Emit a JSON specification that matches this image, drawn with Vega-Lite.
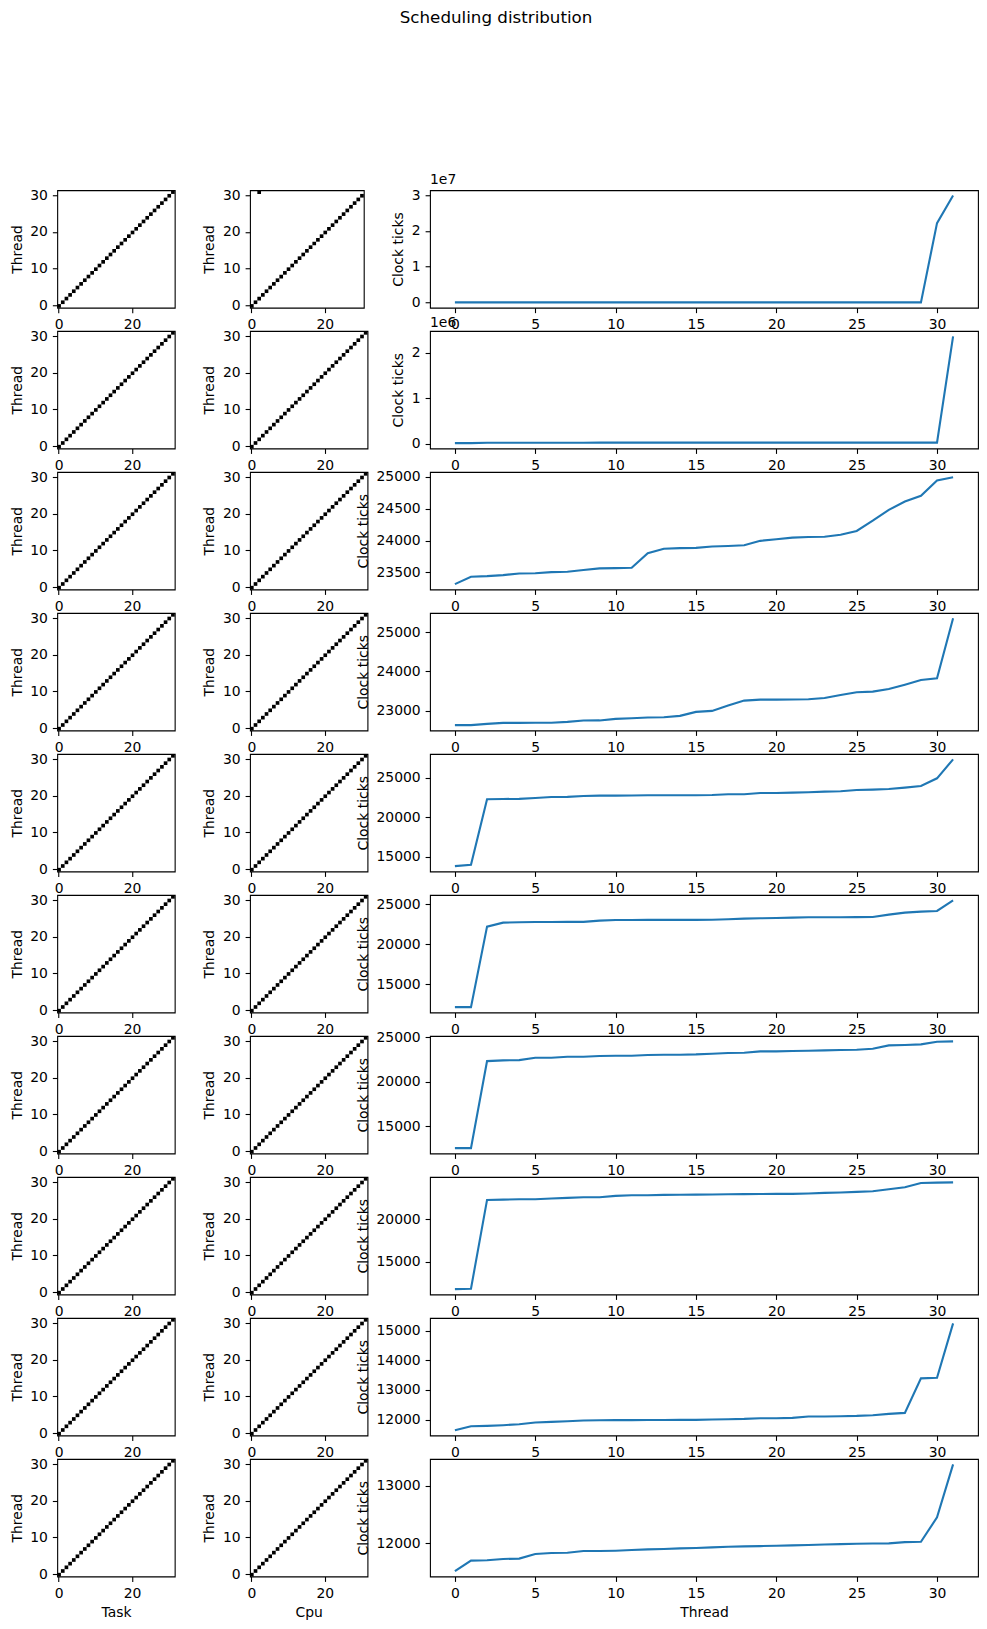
{
"$schema": "https://vega.github.io/schema/vega-lite/v6.json",
"background": "white",
"padding": {"left": 9, "top": 10, "right": 5, "bottom": 5},
"title": {"text": "Scheduling distribution", "fontSize": 16.7, "fontWeight": "normal", "font": "DejaVu Sans", "color": "black", "offset": 146, "anchor": "middle", "dx": 2},
"datasets": {
"task": [{"thread":0,"task":0},{"thread":1,"task":1},{"thread":2,"task":2},{"thread":3,"task":3},{"thread":4,"task":4},{"thread":5,"task":5},{"thread":6,"task":6},{"thread":7,"task":7},{"thread":8,"task":8},{"thread":9,"task":9},{"thread":10,"task":10},{"thread":11,"task":11},{"thread":12,"task":12},{"thread":13,"task":13},{"thread":14,"task":14},{"thread":15,"task":15},{"thread":16,"task":16},{"thread":17,"task":17},{"thread":18,"task":18},{"thread":19,"task":19},{"thread":20,"task":20},{"thread":21,"task":21},{"thread":22,"task":22},{"thread":23,"task":23},{"thread":24,"task":24},{"thread":25,"task":25},{"thread":26,"task":26},{"thread":27,"task":27},{"thread":28,"task":28},{"thread":29,"task":29},{"thread":30,"task":30},{"thread":31,"task":31}],
"cpu": [{"thread":0,"cpu":0},{"thread":1,"cpu":1},{"thread":2,"cpu":2},{"thread":3,"cpu":3},{"thread":4,"cpu":4},{"thread":5,"cpu":5},{"thread":6,"cpu":6},{"thread":7,"cpu":7},{"thread":8,"cpu":8},{"thread":9,"cpu":9},{"thread":10,"cpu":10},{"thread":11,"cpu":11},{"thread":12,"cpu":12},{"thread":13,"cpu":13},{"thread":14,"cpu":14},{"thread":15,"cpu":15},{"thread":16,"cpu":16},{"thread":17,"cpu":17},{"thread":18,"cpu":18},{"thread":19,"cpu":19},{"thread":20,"cpu":20},{"thread":21,"cpu":21},{"thread":22,"cpu":22},{"thread":23,"cpu":23},{"thread":24,"cpu":24},{"thread":25,"cpu":25},{"thread":26,"cpu":26},{"thread":27,"cpu":27},{"thread":28,"cpu":28},{"thread":29,"cpu":29},{"thread":30,"cpu":30},{"thread":31,"cpu":31}],
"cpu1": [{"thread":0,"cpu":0},{"thread":1,"cpu":1},{"thread":2,"cpu":2},{"thread":3,"cpu":3},{"thread":4,"cpu":4},{"thread":5,"cpu":5},{"thread":6,"cpu":6},{"thread":7,"cpu":7},{"thread":8,"cpu":8},{"thread":9,"cpu":9},{"thread":10,"cpu":10},{"thread":11,"cpu":11},{"thread":12,"cpu":12},{"thread":13,"cpu":13},{"thread":14,"cpu":14},{"thread":15,"cpu":15},{"thread":16,"cpu":16},{"thread":17,"cpu":17},{"thread":18,"cpu":18},{"thread":19,"cpu":19},{"thread":20,"cpu":20},{"thread":21,"cpu":21},{"thread":22,"cpu":22},{"thread":23,"cpu":23},{"thread":24,"cpu":24},{"thread":25,"cpu":25},{"thread":26,"cpu":26},{"thread":27,"cpu":27},{"thread":28,"cpu":28},{"thread":29,"cpu":29},{"thread":30,"cpu":30},{"thread":31,"cpu":2}],
"lines": [
{"row":1,"thread":0,"ticks":13500},{"row":1,"thread":1,"ticks":13600},{"row":1,"thread":2,"ticks":22400},{"row":1,"thread":3,"ticks":22500},{"row":1,"thread":4,"ticks":22550},{"row":1,"thread":5,"ticks":22650},{"row":1,"thread":6,"ticks":22700},{"row":1,"thread":7,"ticks":22780},{"row":1,"thread":8,"ticks":22800},{"row":1,"thread":9,"ticks":22860},{"row":1,"thread":10,"ticks":22900},{"row":1,"thread":11,"ticks":22950},{"row":1,"thread":12,"ticks":23000},{"row":1,"thread":13,"ticks":23020},{"row":1,"thread":14,"ticks":23080},{"row":1,"thread":15,"ticks":23100},{"row":1,"thread":16,"ticks":23150},{"row":1,"thread":17,"ticks":23200},{"row":1,"thread":18,"ticks":23260},{"row":1,"thread":19,"ticks":23300},{"row":1,"thread":20,"ticks":23350},{"row":1,"thread":21,"ticks":23400},{"row":1,"thread":22,"ticks":23420},{"row":1,"thread":23,"ticks":23500},{"row":1,"thread":24,"ticks":23550},{"row":1,"thread":25,"ticks":23600},{"row":1,"thread":26,"ticks":23700},{"row":1,"thread":27,"ticks":23800},{"row":1,"thread":28,"ticks":23900},{"row":1,"thread":29,"ticks":24100},{"row":1,"thread":30,"ticks":22200000},{"row":1,"thread":31,"ticks":29900000},
{"row":2,"thread":0,"ticks":12000},{"row":2,"thread":1,"ticks":12100},{"row":2,"thread":2,"ticks":22300},{"row":2,"thread":3,"ticks":22350},{"row":2,"thread":4,"ticks":22400},{"row":2,"thread":5,"ticks":22500},{"row":2,"thread":6,"ticks":22550},{"row":2,"thread":7,"ticks":22600},{"row":2,"thread":8,"ticks":22650},{"row":2,"thread":9,"ticks":22700},{"row":2,"thread":10,"ticks":22720},{"row":2,"thread":11,"ticks":22750},{"row":2,"thread":12,"ticks":22800},{"row":2,"thread":13,"ticks":22820},{"row":2,"thread":14,"ticks":22850},{"row":2,"thread":15,"ticks":22900},{"row":2,"thread":16,"ticks":22950},{"row":2,"thread":17,"ticks":23000},{"row":2,"thread":18,"ticks":23050},{"row":2,"thread":19,"ticks":23100},{"row":2,"thread":20,"ticks":23150},{"row":2,"thread":21,"ticks":23200},{"row":2,"thread":22,"ticks":23250},{"row":2,"thread":23,"ticks":23300},{"row":2,"thread":24,"ticks":23350},{"row":2,"thread":25,"ticks":23450},{"row":2,"thread":26,"ticks":23500},{"row":2,"thread":27,"ticks":23600},{"row":2,"thread":28,"ticks":23700},{"row":2,"thread":29,"ticks":23900},{"row":2,"thread":30,"ticks":24300},{"row":2,"thread":31,"ticks":2360000},
{"row":3,"thread":0,"ticks":23316},{"row":3,"thread":1,"ticks":23432},{"row":3,"thread":2,"ticks":23442},{"row":3,"thread":3,"ticks":23458},{"row":3,"thread":4,"ticks":23484},{"row":3,"thread":5,"ticks":23486},{"row":3,"thread":6,"ticks":23505},{"row":3,"thread":7,"ticks":23511},{"row":3,"thread":8,"ticks":23537},{"row":3,"thread":9,"ticks":23563},{"row":3,"thread":10,"ticks":23568},{"row":3,"thread":11,"ticks":23574},{"row":3,"thread":12,"ticks":23800},{"row":3,"thread":13,"ticks":23870},{"row":3,"thread":14,"ticks":23880},{"row":3,"thread":15,"ticks":23885},{"row":3,"thread":16,"ticks":23905},{"row":3,"thread":17,"ticks":23915},{"row":3,"thread":18,"ticks":23925},{"row":3,"thread":19,"ticks":23995},{"row":3,"thread":20,"ticks":24020},{"row":3,"thread":21,"ticks":24045},{"row":3,"thread":22,"ticks":24055},{"row":3,"thread":23,"ticks":24060},{"row":3,"thread":24,"ticks":24090},{"row":3,"thread":25,"ticks":24150},{"row":3,"thread":26,"ticks":24310},{"row":3,"thread":27,"ticks":24480},{"row":3,"thread":28,"ticks":24610},{"row":3,"thread":29,"ticks":24700},{"row":3,"thread":30,"ticks":24940},{"row":3,"thread":31,"ticks":24990},
{"row":4,"thread":0,"ticks":22627},{"row":4,"thread":1,"ticks":22627},{"row":4,"thread":2,"ticks":22661},{"row":4,"thread":3,"ticks":22686},{"row":4,"thread":4,"ticks":22686},{"row":4,"thread":5,"ticks":22688},{"row":4,"thread":6,"ticks":22690},{"row":4,"thread":7,"ticks":22712},{"row":4,"thread":8,"ticks":22746},{"row":4,"thread":9,"ticks":22748},{"row":4,"thread":10,"ticks":22788},{"row":4,"thread":11,"ticks":22805},{"row":4,"thread":12,"ticks":22822},{"row":4,"thread":13,"ticks":22831},{"row":4,"thread":14,"ticks":22864},{"row":4,"thread":15,"ticks":22966},{"row":4,"thread":16,"ticks":22992},{"row":4,"thread":17,"ticks":23127},{"row":4,"thread":18,"ticks":23254},{"row":4,"thread":19,"ticks":23280},{"row":4,"thread":20,"ticks":23280},{"row":4,"thread":21,"ticks":23282},{"row":4,"thread":22,"ticks":23288},{"row":4,"thread":23,"ticks":23322},{"row":4,"thread":24,"ticks":23398},{"row":4,"thread":25,"ticks":23466},{"row":4,"thread":26,"ticks":23483},{"row":4,"thread":27,"ticks":23551},{"row":4,"thread":28,"ticks":23661},{"row":4,"thread":29,"ticks":23780},{"row":4,"thread":30,"ticks":23822},{"row":4,"thread":31,"ticks":25356},
{"row":5,"thread":0,"ticks":13776},{"row":5,"thread":1,"ticks":13945},{"row":5,"thread":2,"ticks":22257},{"row":5,"thread":3,"ticks":22300},{"row":5,"thread":4,"ticks":22305},{"row":5,"thread":5,"ticks":22426},{"row":5,"thread":6,"ticks":22553},{"row":5,"thread":7,"ticks":22560},{"row":5,"thread":8,"ticks":22680},{"row":5,"thread":9,"ticks":22722},{"row":5,"thread":10,"ticks":22725},{"row":5,"thread":11,"ticks":22730},{"row":5,"thread":12,"ticks":22764},{"row":5,"thread":13,"ticks":22766},{"row":5,"thread":14,"ticks":22768},{"row":5,"thread":15,"ticks":22770},{"row":5,"thread":16,"ticks":22806},{"row":5,"thread":17,"ticks":22890},{"row":5,"thread":18,"ticks":22895},{"row":5,"thread":19,"ticks":23059},{"row":5,"thread":20,"ticks":23062},{"row":5,"thread":21,"ticks":23101},{"row":5,"thread":22,"ticks":23143},{"row":5,"thread":23,"ticks":23228},{"row":5,"thread":24,"ticks":23270},{"row":5,"thread":25,"ticks":23439},{"row":5,"thread":26,"ticks":23481},{"row":5,"thread":27,"ticks":23565},{"row":5,"thread":28,"ticks":23734},{"row":5,"thread":29,"ticks":23945},{"row":5,"thread":30,"ticks":24916},{"row":5,"thread":31,"ticks":27321},
{"row":6,"thread":0,"ticks":12125},{"row":6,"thread":1,"ticks":12125},{"row":6,"thread":2,"ticks":22208},{"row":6,"thread":3,"ticks":22708},{"row":6,"thread":4,"ticks":22750},{"row":6,"thread":5,"ticks":22792},{"row":6,"thread":6,"ticks":22795},{"row":6,"thread":7,"ticks":22798},{"row":6,"thread":8,"ticks":22800},{"row":6,"thread":9,"ticks":22958},{"row":6,"thread":10,"ticks":23042},{"row":6,"thread":11,"ticks":23045},{"row":6,"thread":12,"ticks":23048},{"row":6,"thread":13,"ticks":23050},{"row":6,"thread":14,"ticks":23055},{"row":6,"thread":15,"ticks":23060},{"row":6,"thread":16,"ticks":23070},{"row":6,"thread":17,"ticks":23125},{"row":6,"thread":18,"ticks":23208},{"row":6,"thread":19,"ticks":23250},{"row":6,"thread":20,"ticks":23292},{"row":6,"thread":21,"ticks":23333},{"row":6,"thread":22,"ticks":23375},{"row":6,"thread":23,"ticks":23380},{"row":6,"thread":24,"ticks":23390},{"row":6,"thread":25,"ticks":23400},{"row":6,"thread":26,"ticks":23417},{"row":6,"thread":27,"ticks":23708},{"row":6,"thread":28,"ticks":23958},{"row":6,"thread":29,"ticks":24083},{"row":6,"thread":30,"ticks":24167},{"row":6,"thread":31,"ticks":25500},
{"row":7,"thread":0,"ticks":12510},{"row":7,"thread":1,"ticks":12510},{"row":7,"thread":2,"ticks":22323},{"row":7,"thread":3,"ticks":22400},{"row":7,"thread":4,"ticks":22436},{"row":7,"thread":5,"ticks":22700},{"row":7,"thread":6,"ticks":22705},{"row":7,"thread":7,"ticks":22813},{"row":7,"thread":8,"ticks":22815},{"row":7,"thread":9,"ticks":22889},{"row":7,"thread":10,"ticks":22926},{"row":7,"thread":11,"ticks":22930},{"row":7,"thread":12,"ticks":23002},{"row":7,"thread":13,"ticks":23040},{"row":7,"thread":14,"ticks":23045},{"row":7,"thread":15,"ticks":23077},{"row":7,"thread":16,"ticks":23153},{"row":7,"thread":17,"ticks":23228},{"row":7,"thread":18,"ticks":23266},{"row":7,"thread":19,"ticks":23417},{"row":7,"thread":20,"ticks":23420},{"row":7,"thread":21,"ticks":23454},{"row":7,"thread":22,"ticks":23492},{"row":7,"thread":23,"ticks":23530},{"row":7,"thread":24,"ticks":23567},{"row":7,"thread":25,"ticks":23605},{"row":7,"thread":26,"ticks":23718},{"row":7,"thread":27,"ticks":24095},{"row":7,"thread":28,"ticks":24133},{"row":7,"thread":29,"ticks":24208},{"row":7,"thread":30,"ticks":24510},{"row":7,"thread":31,"ticks":24548},
{"row":8,"thread":0,"ticks":11800},{"row":8,"thread":1,"ticks":11850},{"row":8,"thread":2,"ticks":22285},{"row":8,"thread":3,"ticks":22324},{"row":8,"thread":4,"ticks":22364},{"row":8,"thread":5,"ticks":22366},{"row":8,"thread":6,"ticks":22443},{"row":8,"thread":7,"ticks":22522},{"row":8,"thread":8,"ticks":22600},{"row":8,"thread":9,"ticks":22605},{"row":8,"thread":10,"ticks":22758},{"row":8,"thread":11,"ticks":22837},{"row":8,"thread":12,"ticks":22840},{"row":8,"thread":13,"ticks":22876},{"row":8,"thread":14,"ticks":22890},{"row":8,"thread":15,"ticks":22910},{"row":8,"thread":16,"ticks":22930},{"row":8,"thread":17,"ticks":22950},{"row":8,"thread":18,"ticks":22960},{"row":8,"thread":19,"ticks":22975},{"row":8,"thread":20,"ticks":22990},{"row":8,"thread":21,"ticks":22994},{"row":8,"thread":22,"ticks":23033},{"row":8,"thread":23,"ticks":23112},{"row":8,"thread":24,"ticks":23152},{"row":8,"thread":25,"ticks":23230},{"row":8,"thread":26,"ticks":23310},{"row":8,"thread":27,"ticks":23546},{"row":8,"thread":28,"ticks":23782},{"row":8,"thread":29,"ticks":24280},{"row":8,"thread":30,"ticks":24320},{"row":8,"thread":31,"ticks":24350},
{"row":9,"thread":0,"ticks":11642},{"row":9,"thread":1,"ticks":11776},{"row":9,"thread":2,"ticks":11787},{"row":9,"thread":3,"ticks":11810},{"row":9,"thread":4,"ticks":11843},{"row":9,"thread":5,"ticks":11899},{"row":9,"thread":6,"ticks":11922},{"row":9,"thread":7,"ticks":11944},{"row":9,"thread":8,"ticks":11966},{"row":9,"thread":9,"ticks":11978},{"row":9,"thread":10,"ticks":11980},{"row":9,"thread":11,"ticks":11982},{"row":9,"thread":12,"ticks":11984},{"row":9,"thread":13,"ticks":11986},{"row":9,"thread":14,"ticks":11988},{"row":9,"thread":15,"ticks":11989},{"row":9,"thread":16,"ticks":12000},{"row":9,"thread":17,"ticks":12011},{"row":9,"thread":18,"ticks":12022},{"row":9,"thread":19,"ticks":12045},{"row":9,"thread":20,"ticks":12046},{"row":9,"thread":21,"ticks":12056},{"row":9,"thread":22,"ticks":12101},{"row":9,"thread":23,"ticks":12103},{"row":9,"thread":24,"ticks":12112},{"row":9,"thread":25,"ticks":12123},{"row":9,"thread":26,"ticks":12146},{"row":9,"thread":27,"ticks":12190},{"row":9,"thread":28,"ticks":12224},{"row":9,"thread":29,"ticks":13389},{"row":9,"thread":30,"ticks":13411},{"row":9,"thread":31,"ticks":15246},
{"row":10,"thread":0,"ticks":11511},{"row":10,"thread":1,"ticks":11695},{"row":10,"thread":2,"ticks":11701},{"row":10,"thread":3,"ticks":11724},{"row":10,"thread":4,"ticks":11730},{"row":10,"thread":5,"ticks":11810},{"row":10,"thread":6,"ticks":11828},{"row":10,"thread":7,"ticks":11833},{"row":10,"thread":8,"ticks":11862},{"row":10,"thread":9,"ticks":11863},{"row":10,"thread":10,"ticks":11868},{"row":10,"thread":11,"ticks":11879},{"row":10,"thread":12,"ticks":11891},{"row":10,"thread":13,"ticks":11897},{"row":10,"thread":14,"ticks":11908},{"row":10,"thread":15,"ticks":11914},{"row":10,"thread":16,"ticks":11925},{"row":10,"thread":17,"ticks":11937},{"row":10,"thread":18,"ticks":11943},{"row":10,"thread":19,"ticks":11948},{"row":10,"thread":20,"ticks":11954},{"row":10,"thread":21,"ticks":11960},{"row":10,"thread":22,"ticks":11966},{"row":10,"thread":23,"ticks":11977},{"row":10,"thread":24,"ticks":11983},{"row":10,"thread":25,"ticks":11989},{"row":10,"thread":26,"ticks":11994},{"row":10,"thread":27,"ticks":11996},{"row":10,"thread":28,"ticks":12017},{"row":10,"thread":29,"ticks":12023},{"row":10,"thread":30,"ticks":12449},{"row":10,"thread":31,"ticks":13374}
]
},
"columns": 5,
"spacing": {"row": 23.0, "column": 0},
"bounds": "flush",
"center": true,
"concat": [
 {"width":117.5,"height":117.5,"data":{"name":"task"},"mark":{"type":"rect","color":"black"},"encoding":{"x":{"field":"task","type":"ordinal","scale":{"domain":[0,1,2,3,4,5,6,7,8,9,10,11,12,13,14,15,16,17,18,19,20,21,22,23,24,25,26,27,28,29,30,31],"paddingInner":0,"paddingOuter":0},"axis":{"values":[0,20],"labelAngle":0,"title":null}},"y":{"field":"thread","type":"ordinal","scale":{"domain":[31,30,29,28,27,26,25,24,23,22,21,20,19,18,17,16,15,14,13,12,11,10,9,8,7,6,5,4,3,2,1,0],"paddingInner":0,"paddingOuter":0},"axis":{"values":[0,10,20,30],"title":"Thread"}}}},
 {"width":74.2,"height":117.5,"view":{"stroke":null},"data":{"values":[]},"mark":"point"},
 {"width":113.8,"height":117.5,"data":{"name":"cpu1"},"mark":{"type":"rect","color":"black"},"encoding":{"x":{"field":"cpu","type":"ordinal","scale":{"domain":[0,1,2,3,4,5,6,7,8,9,10,11,12,13,14,15,16,17,18,19,20,21,22,23,24,25,26,27,28,29,30],"paddingInner":0,"paddingOuter":0},"axis":{"values":[0,20],"labelAngle":0,"title":null}},"y":{"field":"thread","type":"ordinal","scale":{"domain":[31,30,29,28,27,26,25,24,23,22,21,20,19,18,17,16,15,14,13,12,11,10,9,8,7,6,5,4,3,2,1,0],"paddingInner":0,"paddingOuter":0},"axis":{"values":[0,10,20,30],"title":"Thread"}}}},
 {"width":61.5,"height":117.5,"view":{"stroke":null},"data":{"values":[]},"mark":"point"},
 {"width":548,"height":117.5,"title":{"text":"1e7","anchor":"start","frame":"group","fontSize":13.9,"fontWeight":"normal","offset":1},"data":{"name":"lines"},"transform":[{"filter":"datum.row == 1"}],"mark":{"type":"line","color":"#1f77b4","strokeWidth":2.1},"encoding":{"x":{"field":"thread","type":"quantitative","scale":{"domain":[-1.55,32.55],"nice":false,"zero":false},"axis":{"values":[0,5,10,15,20,25,30],"title":null}},"y":{"field":"ticks","type":"quantitative","scale":{"zero":false,"nice":false,"padding":5.34},"axis":{"values":[0,10000000,20000000,30000000],"labelExpr":"format(datum.value/1e7,'d')","title":"Clock ticks"}}}},

 {"width":117.5,"height":117.5,"data":{"name":"task"},"mark":{"type":"rect","color":"black"},"encoding":{"x":{"field":"task","type":"ordinal","scale":{"domain":[0,1,2,3,4,5,6,7,8,9,10,11,12,13,14,15,16,17,18,19,20,21,22,23,24,25,26,27,28,29,30,31],"paddingInner":0,"paddingOuter":0},"axis":{"values":[0,20],"labelAngle":0,"title":null}},"y":{"field":"thread","type":"ordinal","scale":{"domain":[31,30,29,28,27,26,25,24,23,22,21,20,19,18,17,16,15,14,13,12,11,10,9,8,7,6,5,4,3,2,1,0],"paddingInner":0,"paddingOuter":0},"axis":{"values":[0,10,20,30],"title":"Thread"}}}},
 {"width":74.2,"height":117.5,"view":{"stroke":null},"data":{"values":[]},"mark":"point"},
 {"width":117.5,"height":117.5,"data":{"name":"cpu"},"mark":{"type":"rect","color":"black"},"encoding":{"x":{"field":"cpu","type":"ordinal","scale":{"domain":[0,1,2,3,4,5,6,7,8,9,10,11,12,13,14,15,16,17,18,19,20,21,22,23,24,25,26,27,28,29,30,31],"paddingInner":0,"paddingOuter":0},"axis":{"values":[0,20],"labelAngle":0,"title":null}},"y":{"field":"thread","type":"ordinal","scale":{"domain":[31,30,29,28,27,26,25,24,23,22,21,20,19,18,17,16,15,14,13,12,11,10,9,8,7,6,5,4,3,2,1,0],"paddingInner":0,"paddingOuter":0},"axis":{"values":[0,10,20,30],"title":"Thread"}}}},
 {"width":61.5,"height":117.5,"view":{"stroke":null},"data":{"values":[]},"mark":"point"},
 {"width":548,"height":117.5,"title":{"text":"1e6","anchor":"start","frame":"group","fontSize":13.9,"fontWeight":"normal","offset":1},"data":{"name":"lines"},"transform":[{"filter":"datum.row == 2"}],"mark":{"type":"line","color":"#1f77b4","strokeWidth":2.1},"encoding":{"x":{"field":"thread","type":"quantitative","scale":{"domain":[-1.55,32.55],"nice":false,"zero":false},"axis":{"values":[0,5,10,15,20,25,30],"title":null}},"y":{"field":"ticks","type":"quantitative","scale":{"zero":false,"nice":false,"padding":5.34},"axis":{"values":[0,1000000,2000000],"labelExpr":"format(datum.value/1e6,'d')","title":"Clock ticks"}}}},

 {"width":117.5,"height":117.5,"data":{"name":"task"},"mark":{"type":"rect","color":"black"},"encoding":{"x":{"field":"task","type":"ordinal","scale":{"domain":[0,1,2,3,4,5,6,7,8,9,10,11,12,13,14,15,16,17,18,19,20,21,22,23,24,25,26,27,28,29,30,31],"paddingInner":0,"paddingOuter":0},"axis":{"values":[0,20],"labelAngle":0,"title":null}},"y":{"field":"thread","type":"ordinal","scale":{"domain":[31,30,29,28,27,26,25,24,23,22,21,20,19,18,17,16,15,14,13,12,11,10,9,8,7,6,5,4,3,2,1,0],"paddingInner":0,"paddingOuter":0},"axis":{"values":[0,10,20,30],"title":"Thread"}}}},
 {"width":74.2,"height":117.5,"view":{"stroke":null},"data":{"values":[]},"mark":"point"},
 {"width":117.5,"height":117.5,"data":{"name":"cpu"},"mark":{"type":"rect","color":"black"},"encoding":{"x":{"field":"cpu","type":"ordinal","scale":{"domain":[0,1,2,3,4,5,6,7,8,9,10,11,12,13,14,15,16,17,18,19,20,21,22,23,24,25,26,27,28,29,30,31],"paddingInner":0,"paddingOuter":0},"axis":{"values":[0,20],"labelAngle":0,"title":null}},"y":{"field":"thread","type":"ordinal","scale":{"domain":[31,30,29,28,27,26,25,24,23,22,21,20,19,18,17,16,15,14,13,12,11,10,9,8,7,6,5,4,3,2,1,0],"paddingInner":0,"paddingOuter":0},"axis":{"values":[0,10,20,30],"title":"Thread"}}}},
 {"width":61.5,"height":117.5,"view":{"stroke":null},"data":{"values":[]},"mark":"point"},
 {"width":548,"height":117.5,"data":{"name":"lines"},"transform":[{"filter":"datum.row == 3"}],"mark":{"type":"line","color":"#1f77b4","strokeWidth":2.1},"encoding":{"x":{"field":"thread","type":"quantitative","scale":{"domain":[-1.55,32.55],"nice":false,"zero":false},"axis":{"values":[0,5,10,15,20,25,30],"title":null}},"y":{"field":"ticks","type":"quantitative","scale":{"zero":false,"nice":false,"padding":5.34},"axis":{"values":[23500,24000,24500,25000],"format":"d","title":"Clock ticks"}}}},

 {"width":117.5,"height":117.5,"data":{"name":"task"},"mark":{"type":"rect","color":"black"},"encoding":{"x":{"field":"task","type":"ordinal","scale":{"domain":[0,1,2,3,4,5,6,7,8,9,10,11,12,13,14,15,16,17,18,19,20,21,22,23,24,25,26,27,28,29,30,31],"paddingInner":0,"paddingOuter":0},"axis":{"values":[0,20],"labelAngle":0,"title":null}},"y":{"field":"thread","type":"ordinal","scale":{"domain":[31,30,29,28,27,26,25,24,23,22,21,20,19,18,17,16,15,14,13,12,11,10,9,8,7,6,5,4,3,2,1,0],"paddingInner":0,"paddingOuter":0},"axis":{"values":[0,10,20,30],"title":"Thread"}}}},
 {"width":74.2,"height":117.5,"view":{"stroke":null},"data":{"values":[]},"mark":"point"},
 {"width":117.5,"height":117.5,"data":{"name":"cpu"},"mark":{"type":"rect","color":"black"},"encoding":{"x":{"field":"cpu","type":"ordinal","scale":{"domain":[0,1,2,3,4,5,6,7,8,9,10,11,12,13,14,15,16,17,18,19,20,21,22,23,24,25,26,27,28,29,30,31],"paddingInner":0,"paddingOuter":0},"axis":{"values":[0,20],"labelAngle":0,"title":null}},"y":{"field":"thread","type":"ordinal","scale":{"domain":[31,30,29,28,27,26,25,24,23,22,21,20,19,18,17,16,15,14,13,12,11,10,9,8,7,6,5,4,3,2,1,0],"paddingInner":0,"paddingOuter":0},"axis":{"values":[0,10,20,30],"title":"Thread"}}}},
 {"width":61.5,"height":117.5,"view":{"stroke":null},"data":{"values":[]},"mark":"point"},
 {"width":548,"height":117.5,"data":{"name":"lines"},"transform":[{"filter":"datum.row == 4"}],"mark":{"type":"line","color":"#1f77b4","strokeWidth":2.1},"encoding":{"x":{"field":"thread","type":"quantitative","scale":{"domain":[-1.55,32.55],"nice":false,"zero":false},"axis":{"values":[0,5,10,15,20,25,30],"title":null}},"y":{"field":"ticks","type":"quantitative","scale":{"zero":false,"nice":false,"padding":5.34},"axis":{"values":[23000,24000,25000],"format":"d","title":"Clock ticks"}}}},

 {"width":117.5,"height":117.5,"data":{"name":"task"},"mark":{"type":"rect","color":"black"},"encoding":{"x":{"field":"task","type":"ordinal","scale":{"domain":[0,1,2,3,4,5,6,7,8,9,10,11,12,13,14,15,16,17,18,19,20,21,22,23,24,25,26,27,28,29,30,31],"paddingInner":0,"paddingOuter":0},"axis":{"values":[0,20],"labelAngle":0,"title":null}},"y":{"field":"thread","type":"ordinal","scale":{"domain":[31,30,29,28,27,26,25,24,23,22,21,20,19,18,17,16,15,14,13,12,11,10,9,8,7,6,5,4,3,2,1,0],"paddingInner":0,"paddingOuter":0},"axis":{"values":[0,10,20,30],"title":"Thread"}}}},
 {"width":74.2,"height":117.5,"view":{"stroke":null},"data":{"values":[]},"mark":"point"},
 {"width":117.5,"height":117.5,"data":{"name":"cpu"},"mark":{"type":"rect","color":"black"},"encoding":{"x":{"field":"cpu","type":"ordinal","scale":{"domain":[0,1,2,3,4,5,6,7,8,9,10,11,12,13,14,15,16,17,18,19,20,21,22,23,24,25,26,27,28,29,30,31],"paddingInner":0,"paddingOuter":0},"axis":{"values":[0,20],"labelAngle":0,"title":null}},"y":{"field":"thread","type":"ordinal","scale":{"domain":[31,30,29,28,27,26,25,24,23,22,21,20,19,18,17,16,15,14,13,12,11,10,9,8,7,6,5,4,3,2,1,0],"paddingInner":0,"paddingOuter":0},"axis":{"values":[0,10,20,30],"title":"Thread"}}}},
 {"width":61.5,"height":117.5,"view":{"stroke":null},"data":{"values":[]},"mark":"point"},
 {"width":548,"height":117.5,"data":{"name":"lines"},"transform":[{"filter":"datum.row == 5"}],"mark":{"type":"line","color":"#1f77b4","strokeWidth":2.1},"encoding":{"x":{"field":"thread","type":"quantitative","scale":{"domain":[-1.55,32.55],"nice":false,"zero":false},"axis":{"values":[0,5,10,15,20,25,30],"title":null}},"y":{"field":"ticks","type":"quantitative","scale":{"zero":false,"nice":false,"padding":5.34},"axis":{"values":[15000,20000,25000],"format":"d","title":"Clock ticks"}}}},

 {"width":117.5,"height":117.5,"data":{"name":"task"},"mark":{"type":"rect","color":"black"},"encoding":{"x":{"field":"task","type":"ordinal","scale":{"domain":[0,1,2,3,4,5,6,7,8,9,10,11,12,13,14,15,16,17,18,19,20,21,22,23,24,25,26,27,28,29,30,31],"paddingInner":0,"paddingOuter":0},"axis":{"values":[0,20],"labelAngle":0,"title":null}},"y":{"field":"thread","type":"ordinal","scale":{"domain":[31,30,29,28,27,26,25,24,23,22,21,20,19,18,17,16,15,14,13,12,11,10,9,8,7,6,5,4,3,2,1,0],"paddingInner":0,"paddingOuter":0},"axis":{"values":[0,10,20,30],"title":"Thread"}}}},
 {"width":74.2,"height":117.5,"view":{"stroke":null},"data":{"values":[]},"mark":"point"},
 {"width":117.5,"height":117.5,"data":{"name":"cpu"},"mark":{"type":"rect","color":"black"},"encoding":{"x":{"field":"cpu","type":"ordinal","scale":{"domain":[0,1,2,3,4,5,6,7,8,9,10,11,12,13,14,15,16,17,18,19,20,21,22,23,24,25,26,27,28,29,30,31],"paddingInner":0,"paddingOuter":0},"axis":{"values":[0,20],"labelAngle":0,"title":null}},"y":{"field":"thread","type":"ordinal","scale":{"domain":[31,30,29,28,27,26,25,24,23,22,21,20,19,18,17,16,15,14,13,12,11,10,9,8,7,6,5,4,3,2,1,0],"paddingInner":0,"paddingOuter":0},"axis":{"values":[0,10,20,30],"title":"Thread"}}}},
 {"width":61.5,"height":117.5,"view":{"stroke":null},"data":{"values":[]},"mark":"point"},
 {"width":548,"height":117.5,"data":{"name":"lines"},"transform":[{"filter":"datum.row == 6"}],"mark":{"type":"line","color":"#1f77b4","strokeWidth":2.1},"encoding":{"x":{"field":"thread","type":"quantitative","scale":{"domain":[-1.55,32.55],"nice":false,"zero":false},"axis":{"values":[0,5,10,15,20,25,30],"title":null}},"y":{"field":"ticks","type":"quantitative","scale":{"zero":false,"nice":false,"padding":5.34},"axis":{"values":[15000,20000,25000],"format":"d","title":"Clock ticks"}}}},

 {"width":117.5,"height":117.5,"data":{"name":"task"},"mark":{"type":"rect","color":"black"},"encoding":{"x":{"field":"task","type":"ordinal","scale":{"domain":[0,1,2,3,4,5,6,7,8,9,10,11,12,13,14,15,16,17,18,19,20,21,22,23,24,25,26,27,28,29,30,31],"paddingInner":0,"paddingOuter":0},"axis":{"values":[0,20],"labelAngle":0,"title":null}},"y":{"field":"thread","type":"ordinal","scale":{"domain":[31,30,29,28,27,26,25,24,23,22,21,20,19,18,17,16,15,14,13,12,11,10,9,8,7,6,5,4,3,2,1,0],"paddingInner":0,"paddingOuter":0},"axis":{"values":[0,10,20,30],"title":"Thread"}}}},
 {"width":74.2,"height":117.5,"view":{"stroke":null},"data":{"values":[]},"mark":"point"},
 {"width":117.5,"height":117.5,"data":{"name":"cpu"},"mark":{"type":"rect","color":"black"},"encoding":{"x":{"field":"cpu","type":"ordinal","scale":{"domain":[0,1,2,3,4,5,6,7,8,9,10,11,12,13,14,15,16,17,18,19,20,21,22,23,24,25,26,27,28,29,30,31],"paddingInner":0,"paddingOuter":0},"axis":{"values":[0,20],"labelAngle":0,"title":null}},"y":{"field":"thread","type":"ordinal","scale":{"domain":[31,30,29,28,27,26,25,24,23,22,21,20,19,18,17,16,15,14,13,12,11,10,9,8,7,6,5,4,3,2,1,0],"paddingInner":0,"paddingOuter":0},"axis":{"values":[0,10,20,30],"title":"Thread"}}}},
 {"width":61.5,"height":117.5,"view":{"stroke":null},"data":{"values":[]},"mark":"point"},
 {"width":548,"height":117.5,"data":{"name":"lines"},"transform":[{"filter":"datum.row == 7"}],"mark":{"type":"line","color":"#1f77b4","strokeWidth":2.1},"encoding":{"x":{"field":"thread","type":"quantitative","scale":{"domain":[-1.55,32.55],"nice":false,"zero":false},"axis":{"values":[0,5,10,15,20,25,30],"title":null}},"y":{"field":"ticks","type":"quantitative","scale":{"zero":false,"nice":false,"padding":5.34},"axis":{"values":[15000,20000,25000],"format":"d","title":"Clock ticks"}}}},

 {"width":117.5,"height":117.5,"data":{"name":"task"},"mark":{"type":"rect","color":"black"},"encoding":{"x":{"field":"task","type":"ordinal","scale":{"domain":[0,1,2,3,4,5,6,7,8,9,10,11,12,13,14,15,16,17,18,19,20,21,22,23,24,25,26,27,28,29,30,31],"paddingInner":0,"paddingOuter":0},"axis":{"values":[0,20],"labelAngle":0,"title":null}},"y":{"field":"thread","type":"ordinal","scale":{"domain":[31,30,29,28,27,26,25,24,23,22,21,20,19,18,17,16,15,14,13,12,11,10,9,8,7,6,5,4,3,2,1,0],"paddingInner":0,"paddingOuter":0},"axis":{"values":[0,10,20,30],"title":"Thread"}}}},
 {"width":74.2,"height":117.5,"view":{"stroke":null},"data":{"values":[]},"mark":"point"},
 {"width":117.5,"height":117.5,"data":{"name":"cpu"},"mark":{"type":"rect","color":"black"},"encoding":{"x":{"field":"cpu","type":"ordinal","scale":{"domain":[0,1,2,3,4,5,6,7,8,9,10,11,12,13,14,15,16,17,18,19,20,21,22,23,24,25,26,27,28,29,30,31],"paddingInner":0,"paddingOuter":0},"axis":{"values":[0,20],"labelAngle":0,"title":null}},"y":{"field":"thread","type":"ordinal","scale":{"domain":[31,30,29,28,27,26,25,24,23,22,21,20,19,18,17,16,15,14,13,12,11,10,9,8,7,6,5,4,3,2,1,0],"paddingInner":0,"paddingOuter":0},"axis":{"values":[0,10,20,30],"title":"Thread"}}}},
 {"width":61.5,"height":117.5,"view":{"stroke":null},"data":{"values":[]},"mark":"point"},
 {"width":548,"height":117.5,"data":{"name":"lines"},"transform":[{"filter":"datum.row == 8"}],"mark":{"type":"line","color":"#1f77b4","strokeWidth":2.1},"encoding":{"x":{"field":"thread","type":"quantitative","scale":{"domain":[-1.55,32.55],"nice":false,"zero":false},"axis":{"values":[0,5,10,15,20,25,30],"title":null}},"y":{"field":"ticks","type":"quantitative","scale":{"zero":false,"nice":false,"padding":5.34},"axis":{"values":[15000,20000],"format":"d","title":"Clock ticks"}}}},

 {"width":117.5,"height":117.5,"data":{"name":"task"},"mark":{"type":"rect","color":"black"},"encoding":{"x":{"field":"task","type":"ordinal","scale":{"domain":[0,1,2,3,4,5,6,7,8,9,10,11,12,13,14,15,16,17,18,19,20,21,22,23,24,25,26,27,28,29,30,31],"paddingInner":0,"paddingOuter":0},"axis":{"values":[0,20],"labelAngle":0,"title":null}},"y":{"field":"thread","type":"ordinal","scale":{"domain":[31,30,29,28,27,26,25,24,23,22,21,20,19,18,17,16,15,14,13,12,11,10,9,8,7,6,5,4,3,2,1,0],"paddingInner":0,"paddingOuter":0},"axis":{"values":[0,10,20,30],"title":"Thread"}}}},
 {"width":74.2,"height":117.5,"view":{"stroke":null},"data":{"values":[]},"mark":"point"},
 {"width":117.5,"height":117.5,"data":{"name":"cpu"},"mark":{"type":"rect","color":"black"},"encoding":{"x":{"field":"cpu","type":"ordinal","scale":{"domain":[0,1,2,3,4,5,6,7,8,9,10,11,12,13,14,15,16,17,18,19,20,21,22,23,24,25,26,27,28,29,30,31],"paddingInner":0,"paddingOuter":0},"axis":{"values":[0,20],"labelAngle":0,"title":null}},"y":{"field":"thread","type":"ordinal","scale":{"domain":[31,30,29,28,27,26,25,24,23,22,21,20,19,18,17,16,15,14,13,12,11,10,9,8,7,6,5,4,3,2,1,0],"paddingInner":0,"paddingOuter":0},"axis":{"values":[0,10,20,30],"title":"Thread"}}}},
 {"width":61.5,"height":117.5,"view":{"stroke":null},"data":{"values":[]},"mark":"point"},
 {"width":548,"height":117.5,"data":{"name":"lines"},"transform":[{"filter":"datum.row == 9"}],"mark":{"type":"line","color":"#1f77b4","strokeWidth":2.1},"encoding":{"x":{"field":"thread","type":"quantitative","scale":{"domain":[-1.55,32.55],"nice":false,"zero":false},"axis":{"values":[0,5,10,15,20,25,30],"title":null}},"y":{"field":"ticks","type":"quantitative","scale":{"zero":false,"nice":false,"padding":5.34},"axis":{"values":[12000,13000,14000,15000],"format":"d","title":"Clock ticks"}}}},

 {"width":117.5,"height":117.5,"data":{"name":"task"},"mark":{"type":"rect","color":"black"},"encoding":{"x":{"field":"task","type":"ordinal","scale":{"domain":[0,1,2,3,4,5,6,7,8,9,10,11,12,13,14,15,16,17,18,19,20,21,22,23,24,25,26,27,28,29,30,31],"paddingInner":0,"paddingOuter":0},"axis":{"values":[0,20],"labelAngle":0,"title":"Task"}},"y":{"field":"thread","type":"ordinal","scale":{"domain":[31,30,29,28,27,26,25,24,23,22,21,20,19,18,17,16,15,14,13,12,11,10,9,8,7,6,5,4,3,2,1,0],"paddingInner":0,"paddingOuter":0},"axis":{"values":[0,10,20,30],"title":"Thread"}}}},
 {"width":74.2,"height":117.5,"view":{"stroke":null},"data":{"values":[]},"mark":"point"},
 {"width":117.5,"height":117.5,"data":{"name":"cpu"},"mark":{"type":"rect","color":"black"},"encoding":{"x":{"field":"cpu","type":"ordinal","scale":{"domain":[0,1,2,3,4,5,6,7,8,9,10,11,12,13,14,15,16,17,18,19,20,21,22,23,24,25,26,27,28,29,30,31],"paddingInner":0,"paddingOuter":0},"axis":{"values":[0,20],"labelAngle":0,"title":"Cpu"}},"y":{"field":"thread","type":"ordinal","scale":{"domain":[31,30,29,28,27,26,25,24,23,22,21,20,19,18,17,16,15,14,13,12,11,10,9,8,7,6,5,4,3,2,1,0],"paddingInner":0,"paddingOuter":0},"axis":{"values":[0,10,20,30],"title":"Thread"}}}},
 {"width":61.5,"height":117.5,"view":{"stroke":null},"data":{"values":[]},"mark":"point"},
 {"width":548,"height":117.5,"data":{"name":"lines"},"transform":[{"filter":"datum.row == 10"}],"mark":{"type":"line","color":"#1f77b4","strokeWidth":2.1},"encoding":{"x":{"field":"thread","type":"quantitative","scale":{"domain":[-1.55,32.55],"nice":false,"zero":false},"axis":{"values":[0,5,10,15,20,25,30],"title":"Thread"}},"y":{"field":"ticks","type":"quantitative","scale":{"zero":false,"nice":false,"padding":5.34},"axis":{"values":[12000,13000],"format":"d","title":"Clock ticks"}}}}
],
"config": {
 "font": "DejaVu Sans",
 "view": {"stroke": "black", "strokeWidth": 1.1},
 "axis": {"domain": false, "grid": false, "tickColor": "black", "tickSize": 4.9, "tickWidth": 1.1, "labelFont": "DejaVu Sans", "labelFontSize": 13.9, "labelColor": "black", "labelPadding": 4.9, "labelFlush": false, "labelOverlap": false, "titleFont": "DejaVu Sans", "titleFontSize": 13.9, "titleFontWeight": "normal", "titleColor": "black", "titlePadding": 5.6},
 "title": {"font": "DejaVu Sans", "fontWeight": "normal", "color": "black"}
}
}
